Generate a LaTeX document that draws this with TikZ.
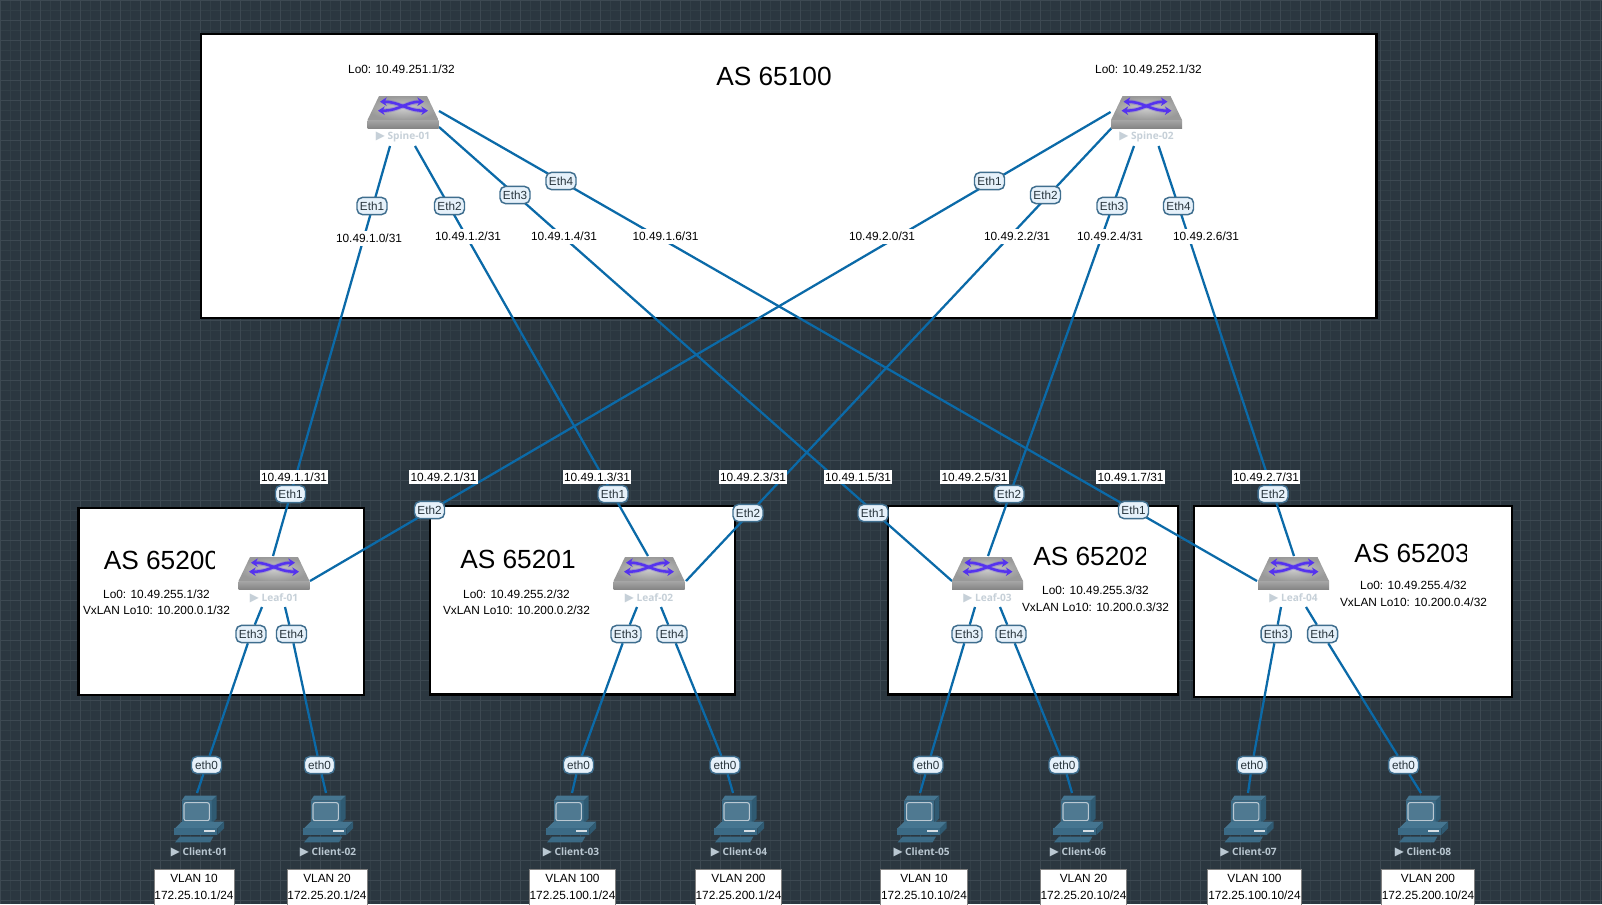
\documentclass[tikz,border=0pt]{standalone}
\usepackage{fontspec}
\setmainfont{Liberation Sans}
\newfontfamily\devfont{Open Sans}
\newfontfamily\symfont{DejaVu Sans}
\usetikzlibrary{arrows.meta}
\pgfdeclarelayer{back}
\pgfdeclarelayer{mid}
\pgfsetlayers{back,mid,main}
\definecolor{bgc}{HTML}{2B3740}
\definecolor{gridmaj}{HTML}{3D4952}
\definecolor{gridmin}{HTML}{323F47}
\definecolor{linkc}{HTML}{0B6AA8}
\definecolor{pillfill}{HTML}{E6F1FA}
\definecolor{pilledge}{HTML}{3F6E8E}
\definecolor{pilltext}{HTML}{27343C}
\definecolor{devlight}{HTML}{C6D0D8}
\definecolor{devdark}{HTML}{BAC8D2}
\definecolor{pcmain}{HTML}{3B6A85}
\definecolor{pcdark}{HTML}{2F5A72}
\definecolor{pctop}{HTML}{457590}
\definecolor{arrowc}{HTML}{5533EE}
\tikzset{
  asbox/.style={draw=black,fill=white,line width=1.9pt},
  lnk/.style={draw=linkc,line width=1.7pt},
  pill/.style={draw=pilledge,fill=pillfill,line width=1.1pt,rounded corners=4pt,minimum width=22.5pt,minimum height=12.8pt,inner sep=0pt,font=\fontsize{8.8}{10}\selectfont,text=pilltext},
  addr/.style={fill=white,inner xsep=1pt,inner ysep=0pt,minimum height=11.2pt,font=\fontsize{8.9}{10}\selectfont,text=black},
  info/.style={inner sep=0pt,font=\fontsize{8.9}{10}\selectfont,text=black},
  astitle/.style={inner sep=0pt,font=\fontsize{19.7}{22}\selectfont,text=black},
  vlanbox/.style={draw=gray,fill=white,line width=0.6pt,anchor=north,inner sep=0pt,minimum height=34pt},
  vlantext/.style={inner sep=0pt,align=center,font=\fontsize{8.9}{12.75}\selectfont,text=black},
  devlabel/.style={inner sep=0pt,font=\devfont\bfseries\fontsize{7.6}{10}\selectfont},
  devbox/.style={inner sep=0pt,draw=none},
  lanarrow/.style={draw=arrowc,line width=1.9pt,{Stealth[length=5pt,width=6.5pt]}-{Stealth[length=5pt,width=6.5pt]}},
}
\newcommand\swicon[4]{% name x top label
  \node[devbox,minimum width=53pt,minimum height=24pt] (#1) at (#2,#3+16) {};
  \begin{scope}[shift={(#2,#3)}]
    \shade[inner color=gray!40!white,outer color=gray!80!white] (-24,0) -- (24,0) -- (35.5,24) -- (-35.5,24) -- cycle;
    \shade[top color=gray!70!white,bottom color=gray!95!white] (-35.5,24) rectangle (35.5,32);
    \draw[draw=arrowc,opacity=.25,line width=3.4pt] (-20,5.7) .. controls (-3,5.7) and (3,14.7) .. (21,14.7);
    \draw[draw=arrowc,opacity=.25,line width=3.4pt] (-21,14.7) .. controls (-3,14.7) and (3,5.7) .. (18,5.7);
    \draw[lanarrow] (-23,5.7) .. controls (-3,5.7) and (3,14.7) .. (25,14.7);
    \draw[lanarrow] (-25,14.7) .. controls (-3,14.7) and (3,5.7) .. (21,5.7);
  \end{scope}
  \node[devlabel,text=devlight] (#1lab) at (#2,#3+41) {{\symfont\fontsize{8.8}{10}\selectfont ▶}\hspace{2pt}#4};
}
\newcommand\pcicon[5]{% name cx label boxcx boxwidth
  \node[devbox,minimum width=38pt,minimum height=36pt] (#1) at (#2,819) {};
  \begin{scope}[shift={(#2,795)},x=0.25pt,y=-0.25pt]
    \fill[pctop] (-52,17) -- (-42,2) -- (53,2) -- (38,17) -- cycle;
    \fill[pcmain] (-52,17) rectangle (38,85);
    \fill[pcdark] (38,17) -- (53,2) -- (53,70) -- (38,85) -- cycle;
    \draw[draw=devdark,fill=pcmain!90!white,line width=0.8pt,rounded corners=1.5pt] (-45,23) rectangle (31,77);
    \fill[pctop] (-72,100) -- (-52,80) -- (75,80) -- (55,100) -- cycle;
    \fill[pcmain] (-74,100) rectangle (55,120);
    \fill[pcdark] (55,100) -- (75,80) -- (75,100) -- (55,120) -- cycle;
    \fill[devdark!60!white] (15,105) rectangle (48,111);
    \fill[pcmain] (-72,142) -- (-57,125) -- (43,125) -- (33,142) -- cycle;
  \end{scope}
  \node[devlabel,text=devdark] (#1lab) at (#2,852) {{\symfont\fontsize{8.8}{10}\selectfont ▶}\hspace{2pt}#3};
  \node[vlanbox,minimum width=#5pt] (#1vlan) at (#4,869) {};
}
\begin{document}
\begin{tikzpicture}[x=0.75pt,y=-0.75pt]
\useasboundingbox (0,0) rectangle (1602,904);
\clip (0,0) rectangle (1602,904);
\begin{pgfonlayer}{back}
  \fill[bgc] (0,0) rectangle (1602,904);
  \foreach \i in {0,...,160} \draw[gridmin,line width=0.75pt] (10*\i+0.5,0) -- (10*\i+0.5,904);
  \foreach \i in {0,...,91} \draw[gridmin,line width=0.75pt] (0,10*\i+0.5) -- (1602,10*\i+0.5);
  \foreach \i in {0,...,80} \draw[gridmaj,line width=0.75pt] (20*\i+0.5,0) -- (20*\i+0.5,904);
  \foreach \i in {0,...,46} \draw[gridmaj,line width=0.75pt] (0,20*\i+0.5) -- (1602,20*\i+0.5);
  \draw[asbox] (201.2,34.2) rectangle (1376.5,318);
  \draw[asbox] (78.7,508.2) rectangle (364,695);
  \draw[asbox] (430.2,506.2) rectangle (735,694.5);
  \draw[asbox] (888.2,506.2) rectangle (1178,694.5);
  \draw[asbox] (1194.2,506.2) rectangle (1512,697);
\end{pgfonlayer}

% titles
\node[astitle] (t100) at (774,76) {AS 65100};
\begin{scope}
  \clip (90,535) rectangle (214,585);
  \node[astitle,anchor=west] (t200) at (103.5,560.5) {AS 65200};
\end{scope}
\node[astitle,anchor=west] (t201) at (460,559.5) {AS 65201};
\begin{scope}
  \clip (1020,530) rectangle (1145,580);
  \node[astitle,anchor=west] (t202) at (1033,556.5) {AS 65202};
\end{scope}
\begin{scope}
  \clip (1340,525) rectangle (1466,575);
  \node[astitle,anchor=west] (t203) at (1354,553) {AS 65203};
\end{scope}

% info texts
\node[info] (i1) at (401.5,69) {Lo0: 10.49.251.1/32};
\node[info] (i2) at (1148.5,69) {Lo0: 10.49.252.1/32};
\node[info] (i3) at (156.5,594) {Lo0: 10.49.255.1/32};
\node[info] (i4) at (156.5,610) {VxLAN Lo10: 10.200.0.1/32};
\node[info] (i5) at (516.5,594) {Lo0: 10.49.255.2/32};
\node[info] (i6) at (516.5,610) {VxLAN Lo10: 10.200.0.2/32};
\node[info] (i7) at (1095.5,590) {Lo0: 10.49.255.3/32};
\node[info] (i8) at (1095.5,607) {VxLAN Lo10: 10.200.0.3/32};
\node[info] (i9) at (1413.5,585) {Lo0: 10.49.255.4/32};
\node[info] (i10) at (1413.5,602) {VxLAN Lo10: 10.200.0.4/32};

% devices
\swicon{spine1}{403}{96}{Spine-01}
\swicon{spine2}{1146.5}{96}{Spine-02}
\swicon{leaf1}{274}{557}{Leaf-01}
\swicon{leaf2}{649}{557}{Leaf-02}
\swicon{leaf3}{987.5}{557}{Leaf-03}
\swicon{leaf4}{1293.5}{557}{Leaf-04}
\pcicon{pc1}{199}{Client-01}{194}{60}
\pcicon{pc2}{328}{Client-02}{327}{60}
\pcicon{pc3}{571}{Client-03}{572.5}{65}
\pcicon{pc4}{739}{Client-04}{738.5}{65}
\pcicon{pc5}{921.6}{Client-05}{924}{65}
\pcicon{pc6}{1078}{Client-06}{1083.5}{65}
\pcicon{pc7}{1248.5}{Client-07}{1254.5}{70}
\pcicon{pc8}{1423}{Client-08}{1428}{70}

% VLAN texts
\node[vlantext] (v1) at (194,886.5) {VLAN 10\\172.25.10.1/24};
\node[vlantext] (v2) at (327,886.5) {VLAN 20\\172.25.20.1/24};
\node[vlantext] (v3) at (572.5,886.5) {VLAN 100\\172.25.100.1/24};
\node[vlantext] (v4) at (738.5,886.5) {VLAN 200\\172.25.200.1/24};
\node[vlantext] (v5) at (924,886.5) {VLAN 10\\172.25.10.10/24};
\node[vlantext] (v6) at (1083.5,886.5) {VLAN 20\\172.25.20.10/24};
\node[vlantext] (v7) at (1254.5,886.5) {VLAN 100\\172.25.100.10/24};
\node[vlantext] (v8) at (1428,886.5) {VLAN 200\\172.25.200.10/24};

% pills top
\node[pill] (p1a) at (372,206) {Eth1};
\node[pill] (p1b) at (449.5,206) {Eth2};
\node[pill] (p1c) at (515,195) {Eth3};
\node[pill] (p1d) at (561,181) {Eth4};
\node[pill] (p2a) at (989.5,181) {Eth1};
\node[pill] (p2b) at (1045.5,195) {Eth2};
\node[pill] (p2c) at (1112,206) {Eth3};
\node[pill] (p2d) at (1178.5,206) {Eth4};
% pills leaf top
\node[pill] (l1a) at (290.5,494) {Eth1};
\node[pill] (l1b) at (429.5,510) {Eth2};
\node[pill] (l2a) at (613,494) {Eth1};
\node[pill] (l2b) at (748,513) {Eth2};
\node[pill] (l3a) at (873,513) {Eth1};
\node[pill] (l3b) at (1009,494) {Eth2};
\node[pill] (l4a) at (1133.5,510) {Eth1};
\node[pill] (l4b) at (1273,494) {Eth2};
% pills leaf bottom
\node[pill] (l1c) at (251,634) {Eth3};
\node[pill] (l1d) at (291.5,634) {Eth4};
\node[pill] (l2c) at (626,634) {Eth3};
\node[pill] (l2d) at (672,634) {Eth4};
\node[pill] (l3c) at (967,634) {Eth3};
\node[pill] (l3d) at (1011,634) {Eth4};
\node[pill] (l4c) at (1276,634) {Eth3};
\node[pill] (l4d) at (1322.5,634) {Eth4};
% eth0 pills
\node[pill] (e1) at (206.5,765) {eth0};
\node[pill] (e2) at (319.5,765) {eth0};
\node[pill] (e3) at (578.5,765) {eth0};
\node[pill] (e4) at (725,765) {eth0};
\node[pill] (e5) at (928,765) {eth0};
\node[pill] (e6) at (1064,765) {eth0};
\node[pill] (e7) at (1252,765) {eth0};
\node[pill] (e8) at (1403.5,765) {eth0};

% address labels
\node[addr] (a1) at (369,238.5) {10.49.1.0/31};
\node[addr] (a2) at (468,236.5) {10.49.1.2/31};
\node[addr] (a3) at (564,236.5) {10.49.1.4/31};
\node[addr] (a4) at (665.5,236.5) {10.49.1.6/31};
\node[addr] (a5) at (882,236.5) {10.49.2.0/31};
\node[addr] (a6) at (1017,236.5) {10.49.2.2/31};
\node[addr] (a7) at (1110,236.5) {10.49.2.4/31};
\node[addr] (a8) at (1206,236.5) {10.49.2.6/31};
\node[addr] (b1) at (294,477) {10.49.1.1/31};
\node[addr] (b2) at (443.5,477) {10.49.2.1/31};
\node[addr] (b3) at (597,477) {10.49.1.3/31};
\node[addr] (b4) at (753,477) {10.49.2.3/31};
\node[addr] (b5) at (858,477) {10.49.1.5/31};
\node[addr] (b6) at (974.5,477) {10.49.2.5/31};
\node[addr] (b7) at (1130.5,477) {10.49.1.7/31};
\node[addr] (b8) at (1266,477) {10.49.2.7/31};

% free link ends
\coordinate (s1a) at (390,146);
\coordinate (s1b) at (415,146);
\coordinate (s1c) at (439,127);
\coordinate (s1d) at (439,111);
\coordinate (s2a) at (1110.6,112);
\coordinate (s2b) at (1111.6,128);
\coordinate (s2c) at (1134,146);
\coordinate (s2d) at (1158.6,146);
\coordinate (t1a) at (273,556);
\coordinate (t1b) at (310,581);
\coordinate (t2a) at (648,556);
\coordinate (t2b) at (686,581);
\coordinate (t3a) at (952,581);
\coordinate (t3b) at (988,556);
\coordinate (t4a) at (1257,581);
\coordinate (t4b) at (1294,556);
\coordinate (d1c) at (262,607);
\coordinate (d1d) at (285,607);
\coordinate (d2c) at (637,607);
\coordinate (d2d) at (661,607);
\coordinate (d3c) at (975,607);
\coordinate (d3d) at (1000,607);
\coordinate (d4c) at (1281,607);
\coordinate (d4d) at (1306,607);
\coordinate (c1) at (197,793);
\coordinate (c2) at (326,793);
\coordinate (c3) at (572,793);
\coordinate (c4) at (733,793);
\coordinate (c5) at (920,793);
\coordinate (c6) at (1072,793);
\coordinate (c7) at (1248,793);
\coordinate (c8) at (1421,793);

\begin{pgfonlayer}{mid}
  \draw[lnk] (s1a) -- (t1a);
  \draw[lnk] (s1b) -- (t2a);
  \draw[lnk] (s1c) -- (t3a);
  \draw[lnk] (s1d) -- (t4a);
  \draw[lnk] (s2a) -- (t1b);
  \draw[lnk] (s2b) -- (t2b);
  \draw[lnk] (s2c) -- (t3b);
  \draw[lnk] (s2d) -- (t4b);
  \draw[lnk] (d1c) -- (l1c) -- (e1) -- (c1);
  \draw[lnk] (d1d) -- (l1d) -- (e2) -- (c2);
  \draw[lnk] (d2c) -- (l2c) -- (e3) -- (c3);
  \draw[lnk] (d2d) -- (l2d) -- (e4) -- (c4);
  \draw[lnk] (d3c) -- (l3c) -- (e5) -- (c5);
  \draw[lnk] (d3d) -- (l3d) -- (e6) -- (c6);
  \draw[lnk] (d4c) -- (l4c) -- (e7) -- (c7);
  \draw[lnk] (d4d) -- (l4d) -- (e8) -- (c8);
\end{pgfonlayer}
\end{tikzpicture}
\end{document}
